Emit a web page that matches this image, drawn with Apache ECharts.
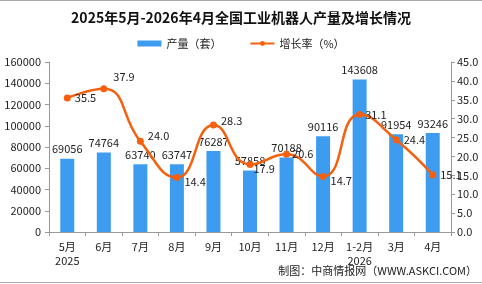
<!DOCTYPE html>
<html>
<head>
<meta charset="UTF-8">
<title></title>
<style>
  html, body { margin: 0; padding: 0; background: #fff; }
</style>
</head>
<body>
<div id="box" style="width: 482px;height: 284px;"></div>
<script src="https://cdn.jsdelivr.net/npm/echarts@6/dist/echarts.min.js"></script>
<script type="text/javascript">
const categories = ['5月\n2025', '6月', '7月', '8月', '9月', '10月', '11月', '12月', '1-2月\n2026', '3月', '4月'];
const output = [69056, 74764, 63740, 63747, 76287, 57858, 70188, 90116, 143608, 91954, 93246];
const growth = [35.5, 37.9, 24.0, 14.4, 28.3, 17.9, 20.6, 14.7, 31.1, 24.4, 15.1];

// label nudges for the growth line, by index
const nudge = { 1: [2, -12], 2: [0, -6], 3: [0, 4], 4: [0, -4], 5: [-4, 4], 6: [-2, 0], 7: [0, 4], 8: [-2, 0] };

const font = '"Noto Sans CJK SC", sans-serif';

const myChart = echarts.init(document.getElementById('box'));

const option = {
    animation: false,
    textStyle: { fontFamily: font },
    title: {
        text: '2025年5月-2026年4月全国工业机器人产量及增长情况',
        left: 'center',
        top: 6,
        textStyle: { fontSize: 14, fontWeight: 'bold', color: '#111', fontFamily: font }
    },
    legend: {
        top: 33,
        left: 'center',
        itemGap: 28,
        itemWidth: 24,
        itemHeight: 6,
        textStyle: { fontSize: 11, color: '#222' },
        data: [
            { name: '产量（套）', icon: 'rect' },
            { name: '增长率（%）' }
        ]
    },
    grid: { left: 49, right: 31, top: 62, bottom: 52 },
    graphic: [
        { type: 'line', shape: { x1: 0, y1: 0.5, x2: 482, y2: 0.5 }, style: { stroke: '#aaa', lineWidth: 1 } },
        { type: 'line', shape: { x1: 0, y1: 282.5, x2: 482, y2: 282.5 }, style: { stroke: '#aaa', lineWidth: 1 } },
        {
            type: 'text', right: 5, top: 265,
            style: { text: '制图：中商情报网（WWW.ASKCI.COM）', fill: '#222', font: '11px ' + font }
        }
    ],
    xAxis: {
        type: 'category',
        data: categories,
        axisLine: { lineStyle: { color: '#999' } },
        axisTick: { show: true, length: 4, lineStyle: { color: '#999' } },
        axisLabel: { color: '#222', fontSize: 11, margin: 8, lineHeight: 14 }
    },
    yAxis: [{
        type: 'value',
        min: 0,
        max: 160000,
        interval: 20000,
        splitLine: { show: false },
        axisLine: { show: true, lineStyle: { color: '#999' } },
        axisTick: { show: true, length: 4, lineStyle: { color: '#999' } },
        axisLabel: { color: '#222', fontSize: 11, margin: 8, formatter: v => String(v) }
    }, {
        type: 'value',
        min: 0,
        max: 45,
        interval: 5,
        splitLine: { show: false },
        axisLine: { show: true, lineStyle: { color: '#999' } },
        axisTick: { show: true, length: 4, lineStyle: { color: '#999' } },
        axisLabel: { color: '#222', fontSize: 11, margin: 6, formatter: v => v.toFixed(1) }
    }],
    series: [{
        name: '产量（套）',
        type: 'bar',
        barWidth: 14,
        data: output,
        itemStyle: { color: '#3d9cf0' },
        label: { show: true, position: 'top', color: '#222', fontSize: 11, distance: 4, formatter: p => String(p.value) }
    }, {
        name: '增长率（%）',
        type: 'line',
        yAxisIndex: 1,
        smooth: true,
        symbol: 'circle',
        symbolSize: 7,
        data: growth.map((v, i) => ({
            value: v,
            label: { offset: nudge[i] || [0, 0] }
        })),
        lineStyle: { color: '#f5600f', width: 2.5 },
        itemStyle: { color: '#f5600f' },
        label: {
            show: true,
            position: 'right',
            distance: 4,
            color: '#222',
            fontSize: 11,
            formatter: p => p.value.toFixed(1)
        }
    }]
};

myChart.setOption(option);
</script>
</body>
</html>
